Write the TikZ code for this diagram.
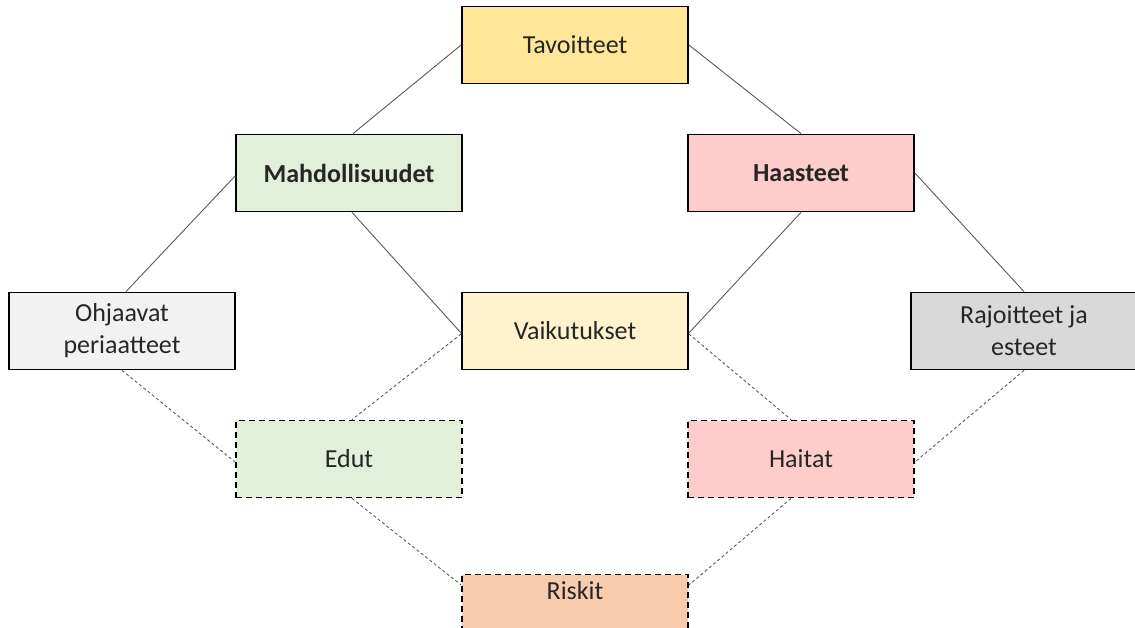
\documentclass[tikz,border=0pt]{standalone}
\usepackage{fontspec}
\setmainfont{Carlito}
\usetikzlibrary{positioning}

\definecolor{tavcol}{HTML}{FFE699}
\definecolor{mahcol}{HTML}{E2EFDA}
\definecolor{haacol}{HTML}{FFCCCC}
\definecolor{ohjcol}{HTML}{F2F2F2}
\definecolor{vaicol}{HTML}{FFF2CC}
\definecolor{rajcol}{HTML}{D9D9D9}
\definecolor{riscol}{HTML}{F8CBAD}

\begin{document}
\begin{tikzpicture}[x=1pt,y=-1pt,
					box/.style={draw, line width=1.8pt, minimum width=226pt, minimum height=77pt,
						align=center, font=\fontsize{26}{32}\selectfont, text=black!85},
					dbox/.style={box, dashed, dash pattern=on 6pt off 4pt},
					link/.style={draw=black!65, line width=0.9pt},
					dlink/.style={link, dash pattern=on 3pt off 2.5pt}]
					\useasboundingbox (0,0) rectangle (1135,627);
					% top level
					\node[box, fill=tavcol] (tav) at (575,45) {Tavoitteet};
					\node[box, fill=mahcol] (mah) at (349,173) {\textbf{Mahdollisuudet}};
					\node[box, fill=haacol] (haa) at (801,173) {\textbf{Haasteet}};
					% middle row
					\node[box, fill=ohjcol] (ohj) at (122,331) {Ohjaavat\\periaatteet};
					\node[box, fill=vaicol] (vai) at (575,331) {Vaikutukset};
					\node[box, fill=rajcol] (raj) at (1024,331) {Rajoitteet ja\\esteet};
					% dashed boxes
					\node[dbox, fill=mahcol] (edu) at (349,459) {Edut};
					\node[dbox, fill=haacol] (hai) at (801,459) {Haitat};
					\node[dbox, fill=riscol, text height=18pt, text depth=45pt] (ris) at (575,613) {Riskit};

					\draw[link] (tav.west) -- ([xshift=4pt]mah.north);
					\draw[link] (tav.east) -- (haa.north);
					\draw[link] ([yshift=-3pt]mah.west) -- ([xshift=4pt]ohj.north);
					\draw[link] ([xshift=3pt]mah.south) -- ([yshift=-2pt]vai.west);
					\draw[link] (haa.south) -- ([yshift=-2pt]vai.east);
					\draw[link] (haa.east) -- (raj.north);
					\draw[dlink] (ohj.south) -- ([yshift=-3pt]edu.west);
					\draw[dlink] ([yshift=-3pt]vai.west) -- ([xshift=3pt]edu.north);
					\draw[dlink] ([yshift=-3pt]vai.east) -- ([xshift=-10pt]hai.north);
					\draw[dlink] (raj.south) -- ([yshift=-3pt]hai.east);
					\draw[dlink] ([xshift=3pt]edu.south) -- ([yshift=28pt]ris.west);
					\draw[dlink] ([xshift=-10pt]hai.south) -- ([yshift=28pt]ris.east);
				\end{tikzpicture}
\end{document}
